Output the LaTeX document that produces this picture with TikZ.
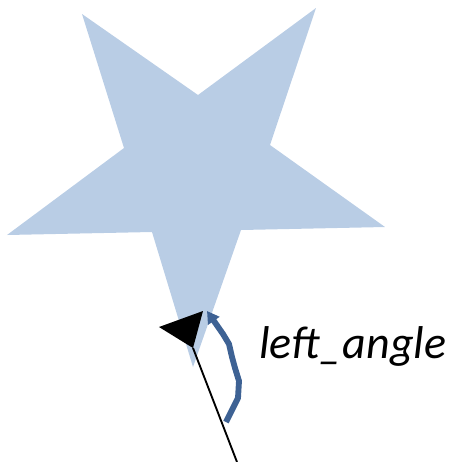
\documentclass[tikz,border=0pt]{standalone}
\usepackage{fontspec}
\setmainfont{Carlito}
\definecolor{starblue}{RGB}{185,205,229}
\definecolor{arcblue}{RGB}{62,98,148}
\usetikzlibrary{arrows.meta}

\begin{document}
\begin{tikzpicture}[x=0.75pt,y=0.75pt,yscale=-1,xscale=1]
	\useasboundingbox (0,0) rectangle (456,462);
	
	%Shape: Star [id:star]
	\fill [starblue] (82,14) -- (198,95) -- (316,8) -- (270,145) -- (385,227) -- (241,230) -- (193,367) -- (152,232) -- (7,235) -- (124,148) -- cycle ;
	
	%Straight Lines [id:ray]
	\coordinate (rayend) at (237,462) ;
	\coordinate (raytip) at (193,348) ;
	\draw [line width=1.4]  (rayend) -- (raytip) ;
	%Shape: Triangle [id:head]
	\fill [black] (raytip) -- (159,327) -- (203,311) -- cycle ;
	
	%Curve Lines [id:arc]
	\coordinate (arcstart) at (226,422) ;
	\coordinate (arcend) at (207,311) ;
	\draw [color=arcblue ,line width=4.4, line join=round, -{Triangle[length=9,width=10]}]  (arcstart) -- (232,410) -- (238,398) -- (239,381) -- (235,368) -- (232,357) -- (229,344) -- (223,334) -- (arcend) ;
	
	% Text Node
	\node (label) [anchor=base west, inner sep=0pt, font=\fontsize{34.5}{40}\selectfont\itshape] at (259,358) {left\_angle};
	
\end{tikzpicture}
\end{document}
